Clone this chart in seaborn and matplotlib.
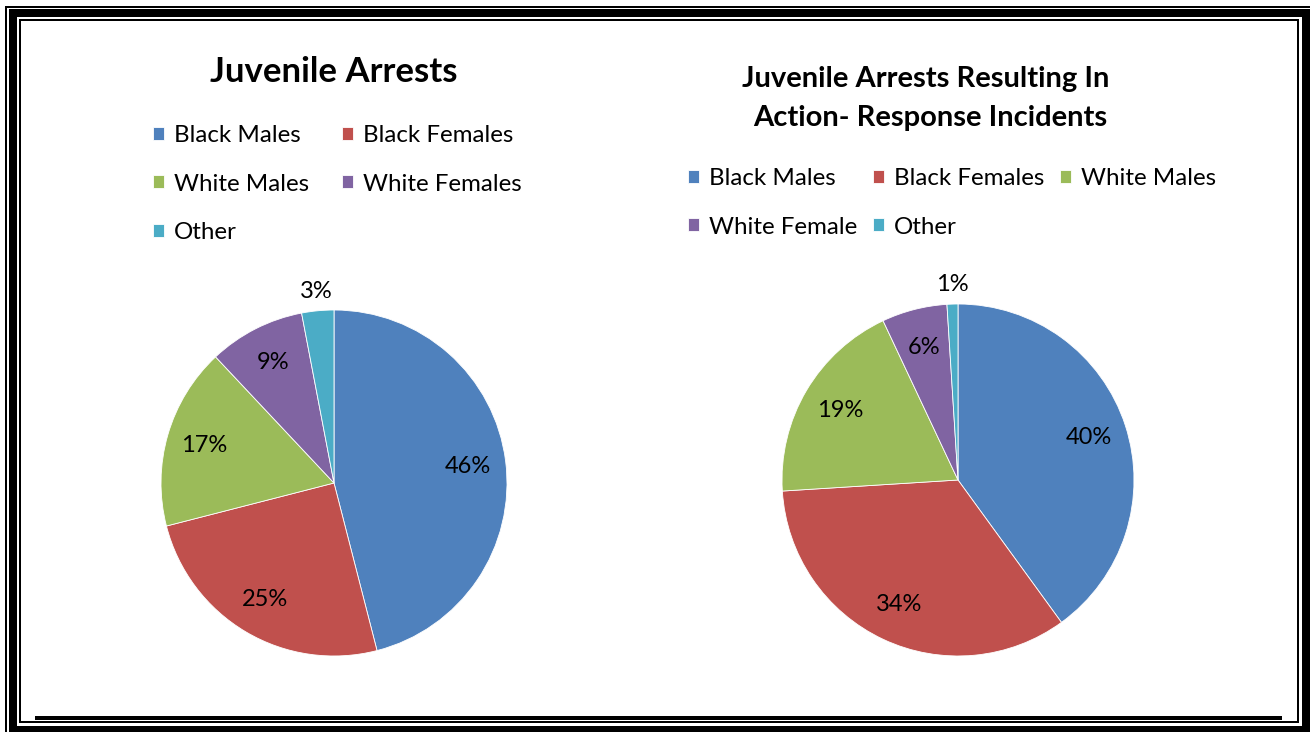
import numpy as np
import matplotlib
matplotlib.use("Agg")
import matplotlib.pyplot as plt
import matplotlib.patches as mpatches
import seaborn as sns

# ---- data ----
left_categories = ["Black Males", "Black Females", "White Males", "White Females", "Other"]
left_values = [46, 25, 17, 9, 3]
right_categories = ["Black Males", "Black Females", "White Males", "White Female", "Other"]
right_values = [40, 34, 19, 6, 1]
left_title = "Juvenile Arrests"
right_title_lines = ["Juvenile Arrests Resulting In", "Action- Response Incidents"]
colors = ["#4F81BD", "#C0504D", "#9BBB59", "#8064A2", "#4BACC6"]

sns.set_theme(style="white")
plt.rcParams["font.family"] = ["Lato", "DejaVu Sans"]
plt.rcParams["text.color"] = "black"
palette = sns.color_palette(colors)

W, H = 1310, 732
fig = plt.figure(figsize=(W / 100, H / 100), dpi=100)
fig.patch.set_facecolor("white")


def fx(px):
    return px / W


def fy(py):
    return 1 - py / H


def draw_pie(cx, cy, r, values):
    ax = fig.add_axes([fx(cx - r), fy(cy + r), 2 * r / W, 2 * r / H])
    wedges, _ = ax.pie(values, colors=palette, startangle=90, counterclock=False,
                       wedgeprops=dict(edgecolor="white", linewidth=0.6))
    ax.set_xlim(-1, 1)
    ax.set_ylim(-1, 1)
    ax.set_aspect("equal")
    ax.axis("off")
    for w, v in zip(wedges, values):
        ang = np.deg2rad((w.theta1 + w.theta2) / 2)
        d = 1.11 if v <= 3 else 0.78
        ax.text(d * np.cos(ang), d * np.sin(ang), f"{v}%", ha="center", va="center",
                fontsize=17, color="black", clip_on=False)
    return ax, wedges


axL, wL = draw_pie(334, 483, 173, left_values)
axR, wR = draw_pie(958, 480, 176, right_values)

fig.text(fx(334), fy(72), left_title, ha="center", va="center", fontsize=25, fontweight="bold")
fig.text(fx(926), fy(79), right_title_lines[0], ha="center", va="center", fontsize=21, fontweight="bold")
fig.text(fx(930), fy(118), right_title_lines[1], ha="center", va="center", fontsize=21, fontweight="bold")

leg_kw = dict(loc="upper left", frameon=False, fontsize=17.4, handlelength=0.45, handleheight=0.45,
              handletextpad=0.42, labelspacing=1.14, borderpad=0, borderaxespad=0)

orderL = [0, 2, 4, 1, 3]
legL = fig.legend([wL[i] for i in orderL], [left_categories[i] for i in orderL], ncol=2,
                  bbox_to_anchor=(fx(153), fy(125)), columnspacing=1.375, **leg_kw)
orderR = [0, 3, 1, 4, 2]
legR = fig.legend([wR[i] for i in orderR], [right_categories[i] for i in orderR], ncol=3,
                  bbox_to_anchor=(fx(688), fy(168)), columnspacing=0.65, **leg_kw)

# ---- page border ----
def rect(x0, y0, x1, y1):
    fig.patches.append(mpatches.Rectangle((fx(x0), fy(y1)), fx(x1) - fx(x0), fy(y0) - fy(y1),
                                          transform=fig.transFigure, facecolor="black",
                                          edgecolor="none", zorder=10))

# outer thin frame
rect(5, 6, 1310, 7.5)
rect(5, 6, 7, 732)
# thick frame
rect(9, 9, 1310, 17)
rect(9, 9, 17, 732)
rect(1302, 9, 1310, 732)
rect(9, 726, 1310, 732)
# inner thin frame
rect(19, 19, 1299, 21)
rect(19, 19, 21, 723)
rect(1297, 19, 1299, 723)
rect(19, 721, 1299, 723)
# bottom bar
rect(35, 716, 1282, 720)

fig.savefig("out.png", dpi=100, facecolor="white")
